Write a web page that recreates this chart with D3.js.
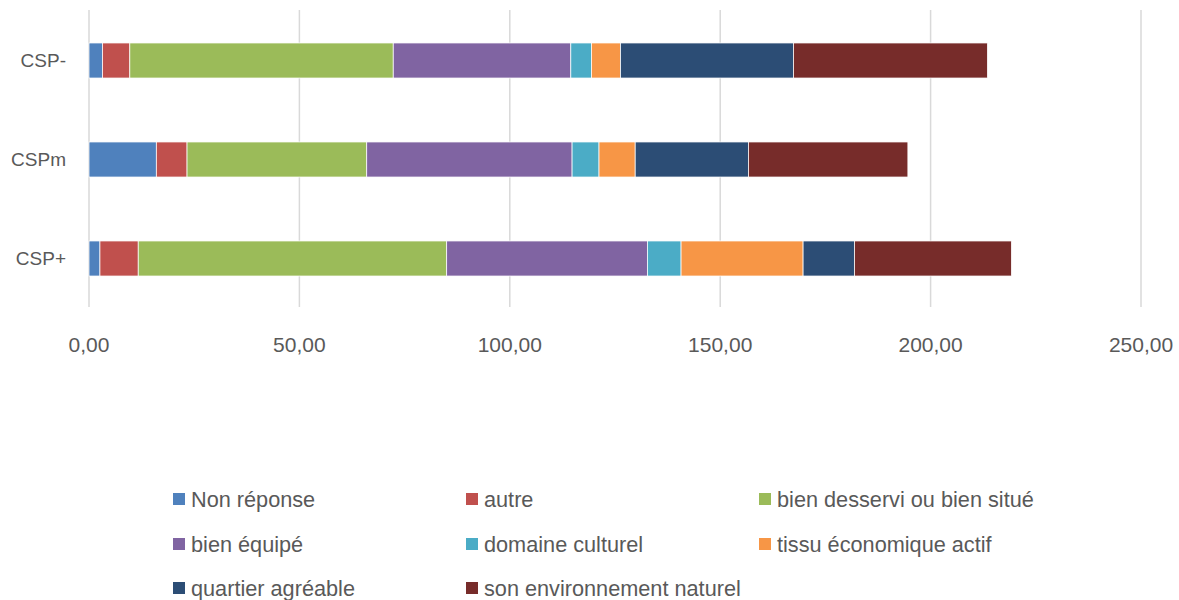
<html>
<head>
    <meta charset="utf-8">
    <script src="https://d3js.org/d3.v7.min.js"></script>
    <style>
        body { margin: 0; background: #fff; }
        .tick-label, .cat-label, .legend-label {
            font-family: "Liberation Sans", Arial, sans-serif;
            fill: #595959;
        }
    </style>
</head>
<body>
<svg id="chart" width="1179" height="600"></svg>
<script>
    // categories, top to bottom
    const categories = ["CSP-", "CSPm", "CSP+"];

    const seriesNames = ["Non réponse", "autre", "bien desservi ou bien situé", "bien équipé",
        "domaine culturel", "tissu économique actif", "quartier agréable", "son environnement naturel"];

    // one value per category, same order as categories
    const nonReponse = [3.2, 16.0, 2.6];
    const autre = [6.5, 7.3, 9.1];
    const bienDesservi = [62.6, 42.7, 73.3];
    const bienEquipe = [42.2, 48.8, 47.7];
    const domaineCulturel = [4.9, 6.4, 8.0];
    const tissuEconomique = [6.9, 8.6, 29.0];
    const quartierAgreable = [41.1, 26.9, 12.2];
    const environnementNaturel = [46.1, 37.9, 37.3];

    const xTicks = [0, 50, 100, 150, 200, 250];

    const seriesValues = [nonReponse, autre, bienDesservi, bienEquipe,
        domaineCulturel, tissuEconomique, quartierAgreable, environnementNaturel];

    const colors = ["#4F81BD", "#C0504D", "#9BBB59", "#8064A2",
        "#4BACC6", "#F79646", "#2C4D75", "#772C2A"];

    // table for d3.stack
    const rows = categories.map((c, i) => {
        const r = {cat: c};
        seriesNames.forEach((s, j) => r[s] = seriesValues[j][i]);
        return r;
    });

    const svg = d3.select("#chart");

    const x = d3.scaleLinear().domain([0, 250]).range([89, 1141]);
    const y = d3.scaleBand().domain(categories).range([11, 308])
        .paddingInner(0.646).paddingOuter(0.323);

    // gridlines
    svg.append("g").selectAll("line").data(xTicks)
        .join("line")
        .attr("x1", d => x(d)).attr("x2", d => x(d))
        .attr("y1", 10).attr("y2", 307)
        .attr("stroke", "#d9d9d9")
        .attr("stroke-width", 1.5);

    // tick labels
    const fmt = d => d.toFixed(2).replace(".", ",");
    svg.append("g").selectAll("text").data(xTicks)
        .join("text")
        .attr("class", "tick-label")
        .attr("x", d => x(d))
        .attr("y", 352)
        .attr("text-anchor", "middle")
        .attr("font-size", 21)
        .text(fmt);

    // category labels
    svg.append("g").selectAll("text").data(categories)
        .join("text")
        .attr("class", "cat-label")
        .attr("x", 66)
        .attr("y", d => y(d) + y.bandwidth() / 2)
        .attr("dy", "0.36em")
        .attr("text-anchor", "end")
        .attr("font-size", 19)
        .text(d => d);

    // stacked bars
    const stacked = d3.stack().keys(seriesNames)(rows);

    svg.append("g").selectAll("g").data(stacked)
        .join("g")
        .attr("fill", (d, i) => colors[i])
        .selectAll("rect").data(d => d)
        .join("rect")
        .attr("x", d => x(d[0]))
        .attr("y", d => y(d.data.cat))
        .attr("width", d => x(d[1]) - x(d[0]))
        .attr("height", y.bandwidth())
        .attr("stroke", "#fff")
        .attr("stroke-width", 0.75);

    // legend, 3 columns
    const legendCols = [173, 466, 759];
    const legendRows = [499, 544, 588];

    const legend = svg.append("g").selectAll("g").data(seriesNames)
        .join("g")
        .attr("transform", (d, i) => "translate(" + legendCols[i % 3] + "," + legendRows[Math.floor(i / 3)] + ")");

    legend.append("rect")
        .attr("x", 0)
        .attr("y", -6)
        .attr("width", 12)
        .attr("height", 12)
        .attr("fill", (d, i) => colors[i]);

    legend.append("text")
        .attr("class", "legend-label")
        .attr("x", 18)
        .attr("dy", "0.36em")
        .attr("font-size", 21.7)
        .text(d => d);
</script>
</body>
</html>
